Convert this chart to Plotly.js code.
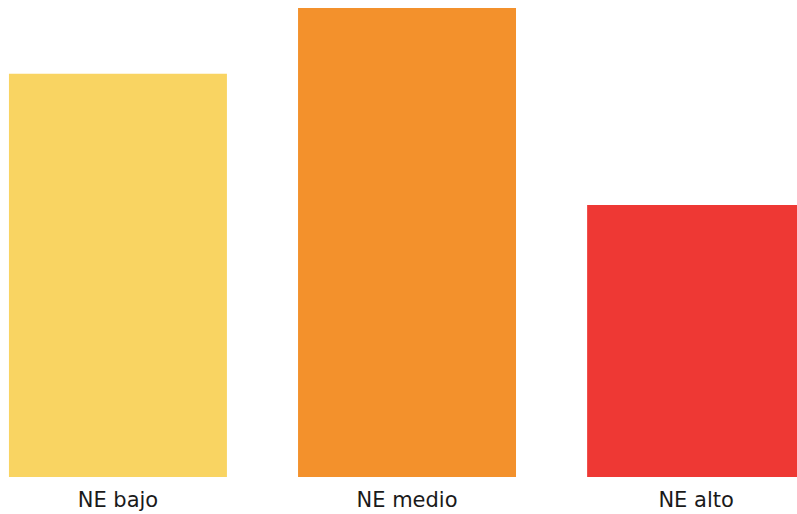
<!DOCTYPE html>
<html>
<head>
<meta charset="utf-8">
<script src="https://cdn.plot.ly/plotly-3.0.1.min.js"></script>
<style>html,body{margin:0;padding:0;background:#fff;}#chart{width:797px;height:514px;}</style>
</head>
<body>
<div id="chart"></div>
<script>
const categories = ["NE bajo", "NE medio", "NE alto"];
const values = [43, 50, 29];
const colors = ["#F9D462", "#F3912C", "#EE3834"];

const trace = {
  type: "bar",
  x: [0, 1, 2],
  y: values,
  width: 0.754,
  marker: {color: colors, line: {width: 0}},
  hoverinfo: "skip"
};

const layout = {
  width: 797,
  height: 514,
  margin: {l: 0, r: 0, t: 8, b: 37, pad: 0},
  paper_bgcolor: "#ffffff",
  plot_bgcolor: "#ffffff",
  showlegend: false,
  xaxis: {
    range: [-0.408, 2.349],
    tickmode: "array",
    tickvals: [0, 1, 2],
    ticktext: categories,
    showgrid: false,
    zeroline: false,
    showline: false,
    ticks: "",
    ticklabelstandoff: 8,
    tickfont: {family: "'DejaVu Sans', sans-serif", size: 21, color: "#1a1a1a"},
    fixedrange: true
  },
  yaxis: {
    range: [0, 50],
    visible: false,
    showgrid: false,
    zeroline: false,
    fixedrange: true
  }
};

Plotly.newPlot("chart", [trace], layout, {displayModeBar: false, staticPlot: true});
</script>
</body>
</html>
